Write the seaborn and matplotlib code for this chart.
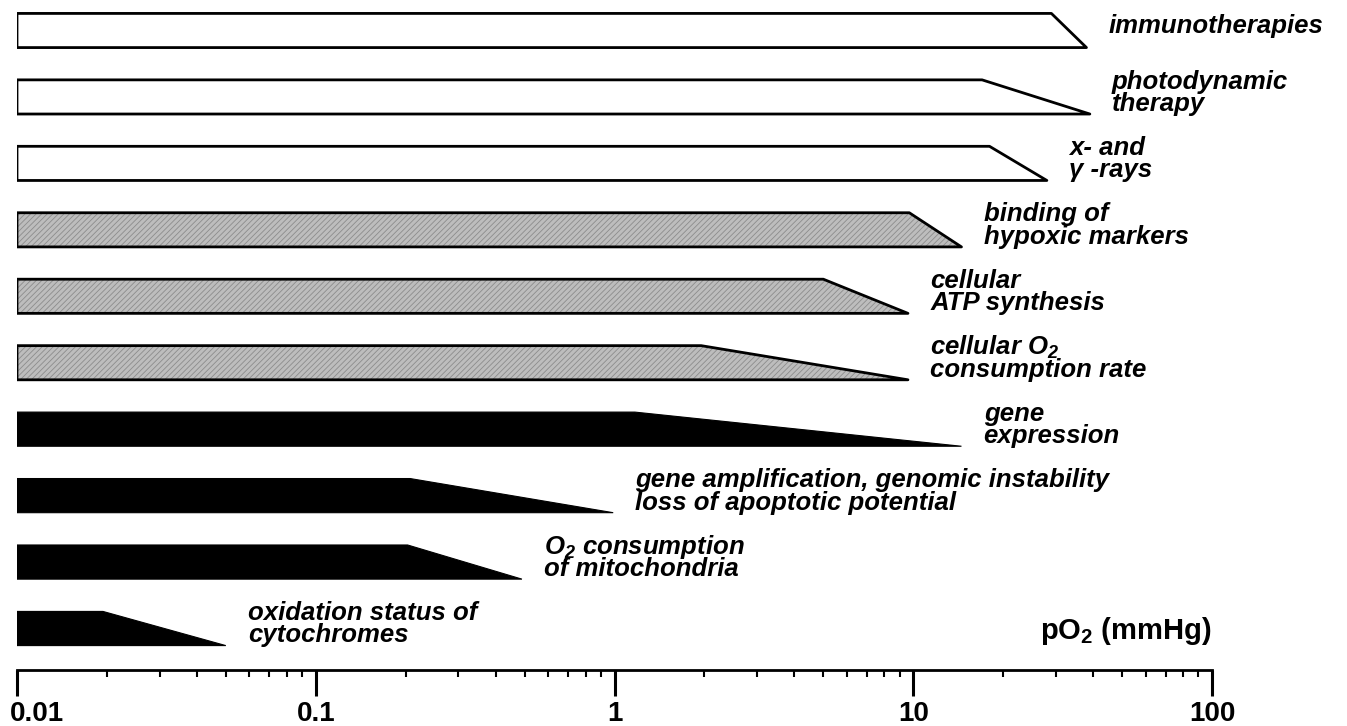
import numpy as np
import matplotlib
matplotlib.use("Agg")
import matplotlib.pyplot as plt
import seaborn as sns
from matplotlib.ticker import LogLocator, NullFormatter
from matplotlib.transforms import ScaledTranslation

# ---------------- data (top to bottom) ----------------
labels = [
    "immunotherapies",
    "photodynamic\ntherapy",
    "x- and\nγ -rays",
    "binding of\nhypoxic markers",
    "cellular\nATP synthesis",
    "cellular O$_{\\mathbfit{2}}$\nconsumption rate",
    "gene\nexpression",
    "gene amplification, genomic instability\nloss of apoptotic potential",
    "O$_{\\mathbfit{2}}$ consumption\nof mitochondria",
    "oxidation status of\ncytochromes",
]
plateau_end = [29, 17, 18, 9.7, 5.0, 1.95, 1.17, 0.207, 0.203, 0.0194]
taper_end = [38, 39, 28, 14.5, 9.6, 9.6, 14.5, 0.99, 0.49, 0.05]
category = ["therapy", "therapy", "therapy",
            "cellular", "cellular", "cellular",
            "molecular", "molecular", "molecular", "molecular"]
x_start = 0.01
tick_values = [0.01, 0.1, 1, 10, 100]
tick_labels = ["0.01", "0.1", "1", "10", "100"]
axis_label = "pO$_{\\mathbf{2}}$ (mmHg)"

# ---------------- style ----------------
sns.set_theme(style="white")
plt.rcParams["font.family"] = ["Liberation Sans", "DejaVu Sans"]
plt.rcParams["mathtext.fontset"] = "custom"
plt.rcParams["mathtext.rm"] = "Liberation Sans"
plt.rcParams["mathtext.it"] = "Liberation Sans:italic"
plt.rcParams["mathtext.bf"] = "Liberation Sans:bold"
plt.rcParams["mathtext.bfit"] = "Liberation Sans:italic:bold"
plt.rcParams["hatch.linewidth"] = 0.6

W, H = 1347, 726
fig = plt.figure(figsize=(W / 100, H / 100), dpi=100)
ax = fig.add_axes([17 / W, (H - 669.5) / H, (1212 - 17) / W, 669.5 / H])
ax.set_xscale("log")
ax.set_xlim(0.01, 100)
ax.set_ylim(-0.617, 9.459)

n = len(labels)
ys = np.arange(n)[::-1]
half = 0.257

for lab, p, e, cat, y in zip(labels, plateau_end, taper_end, category, ys):
    xs = [x_start, p, e, x_start]
    yy = [y + half, y + half, y - half, y - half]
    if cat == "molecular":
        ax.fill(xs, yy, facecolor="black", edgecolor="black", lw=0.8, zorder=2)
    elif cat == "cellular":
        ax.fill(xs, yy, facecolor="#bdbdbd", edgecolor="#8c8c8c",
                hatch="//////", lw=0, zorder=2)
        ax.fill(xs, yy, facecolor="none", edgecolor="black", lw=2.0,
                joinstyle="round", zorder=3)
    else:
        ax.fill(xs, yy, facecolor="white", edgecolor="black", lw=2.0,
                joinstyle="round", zorder=3)

    lines = lab.split("\n")
    offsets = [-2] if len(lines) == 1 else [6, -10]
    for line, dy in zip(lines, offsets):
        ax.annotate(line, xy=(e, y), xytext=(16, dy), textcoords="offset points",
                    ha="left", va="baseline", fontsize=18.5,
                    fontstyle="italic", fontweight="bold", color="black")

# axis label
ax.annotate(axis_label, xy=(1.0, ys[-1]), xycoords=("axes fraction", "data"),
            xytext=(0, -7.5), textcoords="offset points",
            ha="right", va="baseline", fontsize=21, fontweight="bold",
            color="black")

# ---------------- axis ----------------
ax.set_xticks(tick_values, tick_labels, fontsize=20, fontweight="bold")
ax.xaxis.set_minor_locator(LogLocator(base=10, subs=np.arange(2, 10)))
ax.xaxis.set_minor_formatter(NullFormatter())
ax.tick_params(axis="x", which="major", direction="out", length=19, width=2.2,
               pad=4, color="black", labelcolor="black", bottom=True)
ax.tick_params(axis="x", which="minor", direction="out", length=5, width=1.5,
               color="black", bottom=True)
ax.set_yticks([])
sns.despine(ax=ax, left=True, top=True, right=True)
ax.spines["bottom"].set_color("black")
ax.spines["bottom"].set_linewidth(2.0)
ax.grid(False)

first = ax.get_xticklabels()[0]
first.set_horizontalalignment("left")
first.set_transform(first.get_transform() + ScaledTranslation(-7 / 100, 0, fig.dpi_scale_trans))

fig.savefig("out.png", dpi=100, facecolor="white")
